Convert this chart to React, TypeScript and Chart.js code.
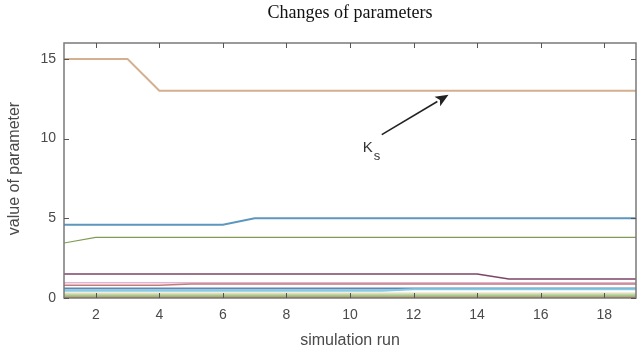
import React, { useEffect, useRef } from "react";
import { Chart, registerables } from "chart.js";

Chart.register(...registerables);

const runs = [1, 2, 3, 4, 5, 6, 7, 8, 9, 10, 11, 12, 13, 14, 15, 16, 17, 18, 19];
const xTicks = [2, 4, 6, 8, 10, 12, 14, 16, 18];
const yTicks = [0, 5, 10, 15];

const ks = [15, 15, 15, 13, 13, 13, 13, 13, 13, 13, 13, 13, 13, 13, 13, 13, 13, 13, 13];
const pBlue = [4.6, 4.6, 4.6, 4.6, 4.6, 4.6, 5, 5, 5, 5, 5, 5, 5, 5, 5, 5, 5, 5, 5];
const pGreen = [3.45, 3.8, 3.8, 3.8, 3.8, 3.8, 3.8, 3.8, 3.8, 3.8, 3.8, 3.8, 3.8, 3.8, 3.8, 3.8, 3.8, 3.8, 3.8];
const pMaroon = [1.5, 1.5, 1.5, 1.5, 1.5, 1.5, 1.5, 1.5, 1.5, 1.5, 1.5, 1.5, 1.5, 1.5, 1.2, 1.2, 1.2, 1.2, 1.2];
const pPink = [0.95, 0.95, 0.95, 0.95, 0.95, 0.95, 0.95, 0.95, 0.95, 0.95, 0.95, 0.95, 0.95, 0.95, 0.95, 0.95, 0.95, 0.95, 0.95];
const pRed = [0.8, 0.8, 0.8, 0.8, 0.88, 0.88, 0.88, 0.88, 0.88, 0.88, 0.88, 0.88, 0.88, 0.88, 0.88, 0.88, 0.88, 0.88, 0.88];
const pNavy = [0.6, 0.6, 0.6, 0.6, 0.6, 0.6, 0.6, 0.6, 0.6, 0.6, 0.6, 0.6, 0.6, 0.6, 0.6, 0.6, 0.6, 0.6, 0.6];
const pCyan = [0.45, 0.45, 0.45, 0.45, 0.45, 0.45, 0.45, 0.45, 0.45, 0.45, 0.45, 0.55, 0.55, 0.55, 0.55, 0.55, 0.55, 0.55, 0.55];
const pBeige = [0.3, 0.3, 0.3, 0.3, 0.3, 0.3, 0.3, 0.3, 0.3, 0.3, 0.3, 0.3, 0.3, 0.3, 0.3, 0.3, 0.3, 0.3, 0.3];
const pLime = [0.17, 0.17, 0.17, 0.17, 0.17, 0.17, 0.17, 0.17, 0.17, 0.17, 0.17, 0.17, 0.17, 0.17, 0.17, 0.17, 0.17, 0.17, 0.17];
const pOlive = [0.05, 0.05, 0.05, 0.05, 0.05, 0.05, 0.05, 0.05, 0.05, 0.05, 0.05, 0.05, 0.05, 0.05, 0.05, 0.05, 0.05, 0.05, 0.05];

const titleText = "Changes of parameters";
const xTitle = "simulation run";
const yTitle = "value of parameter";
const annotLabel = "K";
const annotSub = "s";
// annotation anchors in data units
const arrowFrom = { x: 11.0, y: 10.25 };
const arrowTo = { x: 13.1, y: 12.75 };
const labelAt = { x: 10.4, y: 9.4 };

const AXIS_GRAY = "#7a7a7a";
const TEXT_GRAY = "#4a4a4a";

const decorPlugin = {
  id: "decor",
  afterDraw(chart: any) {
    const { ctx, chartArea, scales } = chart;
    const { left, right, top, bottom } = chartArea;
    const xs = scales.x;
    const ys = scales.y;
    ctx.save();
    // frame
    ctx.strokeStyle = AXIS_GRAY;
    ctx.lineWidth = 1.5;
    ctx.strokeRect(left, top, right - left, bottom - top);
    // ticks
    ctx.lineWidth = 1;
    ctx.strokeStyle = "#555";
    const tl = 5;
    xTicks.forEach((t) => {
      const px = Math.round(xs.getPixelForValue(t)) + 0.5;
      ctx.beginPath();
      ctx.moveTo(px, bottom);
      ctx.lineTo(px, bottom - tl);
      ctx.moveTo(px, top);
      ctx.lineTo(px, top + tl);
      ctx.stroke();
    });
    yTicks.forEach((t) => {
      const py = Math.round(ys.getPixelForValue(t)) + 0.5;
      ctx.beginPath();
      ctx.moveTo(left, py);
      ctx.lineTo(left + tl, py);
      ctx.moveTo(right, py);
      ctx.lineTo(right - tl, py);
      ctx.stroke();
    });
    // title
    ctx.fillStyle = "#111";
    ctx.font = '18px "Liberation Serif", "Times New Roman", serif';
    ctx.textAlign = "center";
    ctx.textBaseline = "middle";
    ctx.fillText(titleText, (left + right) / 2, 13);
    // axis titles
    ctx.fillStyle = TEXT_GRAY;
    ctx.font = '16px "Liberation Sans", Arial, sans-serif';
    ctx.fillText(xTitle, (left + right) / 2, 341);
    ctx.save();
    ctx.translate(15, (top + bottom) / 2 - 2);
    ctx.rotate(-Math.PI / 2);
    ctx.fillText(yTitle, 0, 0);
    ctx.restore();
    // annotation arrow
    const x1 = xs.getPixelForValue(arrowFrom.x);
    const y1 = ys.getPixelForValue(arrowFrom.y);
    const x2 = xs.getPixelForValue(arrowTo.x);
    const y2 = ys.getPixelForValue(arrowTo.y);
    const ang = Math.atan2(y2 - y1, x2 - x1);
    const hl = 13;
    const hw = 5.5;
    const bx = x2 - hl * Math.cos(ang);
    const by = y2 - hl * Math.sin(ang);
    ctx.strokeStyle = "#222";
    ctx.fillStyle = "#222";
    ctx.lineWidth = 1.6;
    ctx.beginPath();
    ctx.moveTo(x1, y1);
    ctx.lineTo(bx, by);
    ctx.stroke();
    ctx.beginPath();
    ctx.moveTo(x2, y2);
    ctx.lineTo(bx + hw * Math.sin(ang), by - hw * Math.cos(ang));
    ctx.lineTo(bx + 3 * Math.cos(ang), by + 3 * Math.sin(ang));
    ctx.lineTo(bx - hw * Math.sin(ang), by + hw * Math.cos(ang));
    ctx.closePath();
    ctx.fill();
    // label
    const lx = xs.getPixelForValue(labelAt.x);
    const ly = ys.getPixelForValue(labelAt.y);
    ctx.fillStyle = "#333";
    ctx.font = '15px "Liberation Sans", Arial, sans-serif';
    ctx.textAlign = "left";
    ctx.fillText(annotLabel, lx, ly);
    ctx.font = '13px "Liberation Sans", Arial, sans-serif';
    ctx.fillText(annotSub, lx + 11, ly + 8);
    ctx.restore();
  },
};

function ds(label: string, data: number[], color: string, width = 1.5) {
  return {
    label,
    data: data.map((v, i) => ({ x: runs[i], y: v })),
    borderColor: color,
    backgroundColor: color,
    borderWidth: width,
    pointRadius: 0,
    tension: 0,
    fill: false,
  };
}

export default function App() {
  const ref = useRef<HTMLCanvasElement | null>(null);
  useEffect(() => {
    if (!ref.current) return;
    const chart = new Chart(ref.current, {
      type: "line",
      data: {
        datasets: [
          ds("olive", pOlive, "#a89458", 2),
          ds("lime", pLime, "#a9c98a", 2),
          ds("beige", pBeige, "#e2dcb8", 1.5),
          ds("cyan", pCyan, "#86cbe3", 2),
          ds("navy", pNavy, "#5a88b4", 2),
          ds("red", pRed, "#c47a7a", 1.5),
          ds("pink", pPink, "#e3b3d3", 1.5),
          ds("maroon", pMaroon, "#7c4566", 1.5),
          ds("green", pGreen, "#7f9b55", 1.2),
          ds("blue", pBlue, "#5d97bd", 2),
          ds("Ks", ks, "#d4b091", 2),
        ] as any,
      },
      options: {
        responsive: false,
        animation: false,
        layout: { padding: { top: 43, right: 2, left: 0, bottom: 0 } },
        plugins: { legend: { display: false }, tooltip: { enabled: false }, title: { display: false } },
        scales: {
          x: {
            type: "linear",
            min: 1,
            max: 19,
            grid: { display: false, drawTicks: false },
            border: { display: false },
            afterBuildTicks: (s: any) => {
              s.ticks = xTicks.map((v) => ({ value: v }));
            },
            afterFit: (s: any) => {
              s.height = 60;
            },
            ticks: {
              padding: 9,
              maxRotation: 0,
              color: TEXT_GRAY,
              font: { family: '"Liberation Sans", Arial, sans-serif', size: 14 },
            },
          },
          y: {
            type: "linear",
            min: 0,
            max: 16,
            grid: { display: false, drawTicks: false },
            border: { display: false },
            afterBuildTicks: (s: any) => {
              s.ticks = yTicks.map((v) => ({ value: v }));
            },
            afterFit: (s: any) => {
              s.width = 64;
            },
            ticks: {
              padding: 8,
              color: TEXT_GRAY,
              font: { family: '"Liberation Sans", Arial, sans-serif', size: 14 },
            },
          },
        },
      },
      plugins: [decorPlugin],
    });
    return () => chart.destroy();
  }, []);
  return (
    <div style={{ position: "fixed", left: 0, top: 0, width: 638, height: 358, background: "#fff" }}>
      <canvas ref={ref} width={638} height={358} />
    </div>
  );
}
